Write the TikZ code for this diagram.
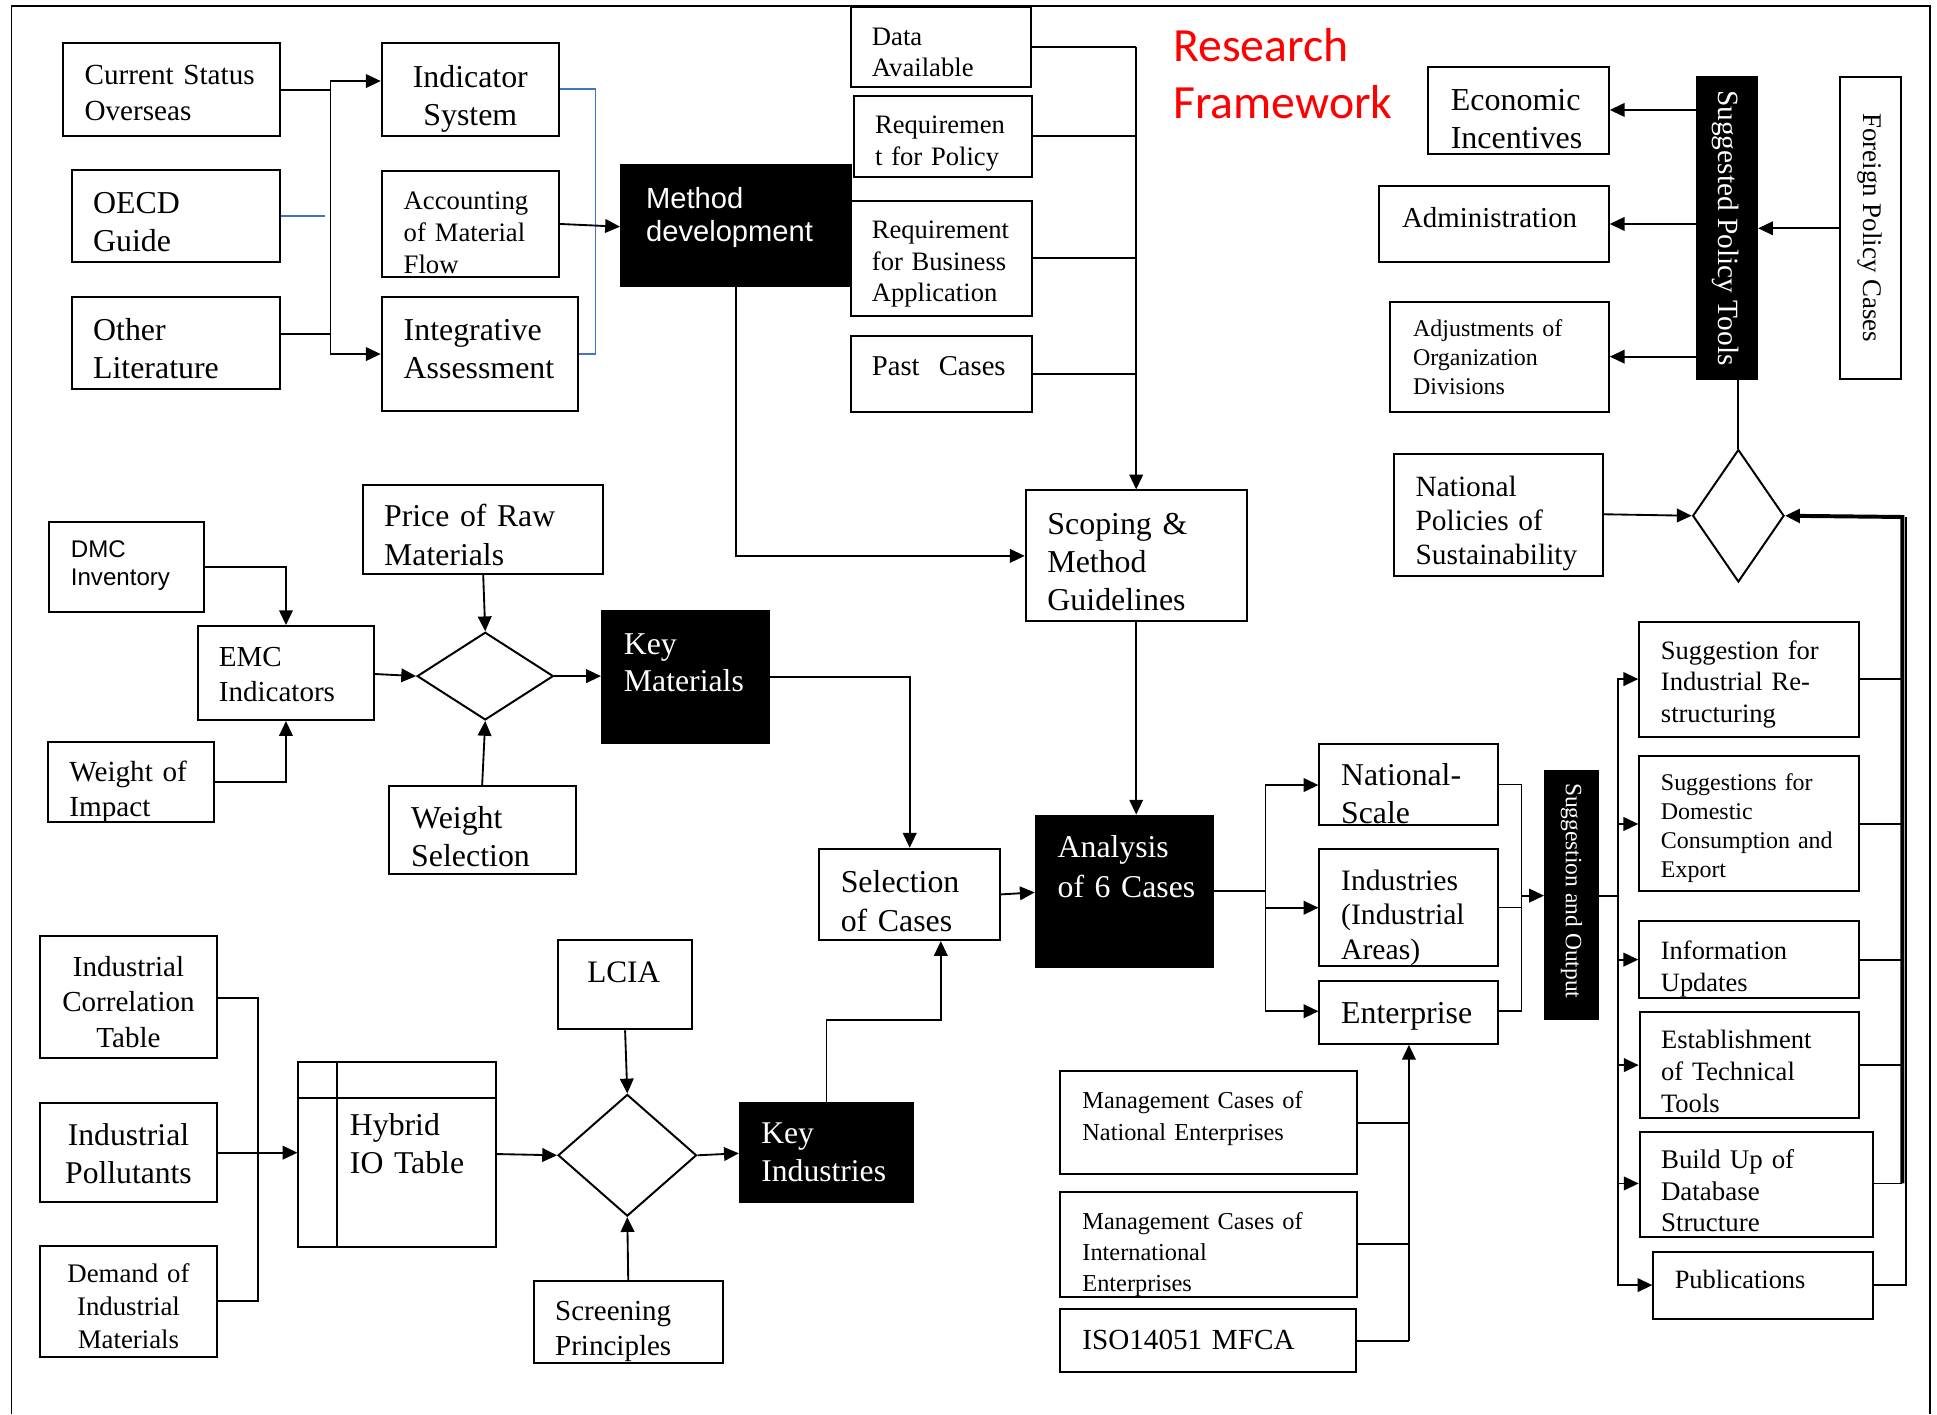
\documentclass[tikz,border=0pt]{standalone}
\usepackage{fontspec}
\setmainfont{Liberation Serif}
\newfontfamily\arialf{Liberation Sans}
\newfontfamily\calf{Carlito}
\usetikzlibrary{fit,arrows.meta,shapes.geometric}
\newcommand\fs[2]{\fontsize{#1}{#2}\selectfont}
\definecolor{lnblue}{RGB}{68,114,196}
\tikzset{
  bx/.style={draw, line width=0.8pt, inner sep=0pt},
  blk/.style={bx, fill=black},
  dia/.style={draw, line width=0.8pt, shape=diamond, inner sep=0pt},
  ln/.style={line width=0.75pt},
  ar/.style={-{Triangle[length=6pt,width=5.5pt]}},
  bl/.style={line width=0.75pt, draw=lnblue},
  tx/.style={inner sep=0pt, anchor=base west, text width=130pt, align=left, yshift=-0.75pt},
  tc/.style={inner sep=0pt, anchor=base, align=center, yshift=-0.75pt},
  wt/.style={text=white},
}
\begin{document}
\begin{tikzpicture}[x=0.5pt,y=-0.5pt]
\useasboundingbox (0,0) rectangle (1568,1145);
% frame
\draw[line width=0.8pt] (9.3,1145) -- (9.3,5) -- (1562.5,5) -- (1562.5,1145);

% ---------- boxes ----------
\node[bx, fit={(51,35)(226.6,110)}] (cso) {};
\node[bx, fit={(58.6,137.6)(226.6,211.8)}] (oecd) {};
\node[bx, fit={(58.6,240.2)(226.6,315)}] (oth) {};
\node[bx, fit={(309,35)(452.5,110)}] (ind) {};
\node[bx, fit={(309,138.4)(452.5,224)}] (acc) {};
\node[bx, fit={(309,240.2)(467.8,332.7)}] (integ) {};
\node[blk, fit={(502.7,133.3)(689,231.5)}] (meth) {};
\node[bx, fit={(689,6)(834.6,70.2)}] (data) {};
\node[bx, fit={(691,78)(835,143)}] (rpol) {};
\node[bx, fit={(689,162.7)(835,255.8)}] (rbus) {};
\node[bx, fit={(689,272)(835,333.3)}] (past) {};
\node[bx, fit={(1156.3,54)(1302.3,124.9)}] (econ) {};
\node[bx, fit={(1116.2,150.8)(1302.3,211.8)}] (adm) {};
\node[bx, fit={(1125.4,244.5)(1302.3,333.3)}] (adj) {};
\node[blk, fit={(1373.7,62)(1422.4,307.1)}] (spt) {};
\node[bx, fit={(1489.8,62)(1539,307.1)}] (fpc) {};
\node[bx, fit={(1128.3,367.9)(1297.4,465.9)}] (npol) {};
\node[dia, minimum width=37pt, minimum height=53.6pt] (d3) at (1407.2,417.5) {};
\node[bx, fit={(830.3,397)(1009.2,502.5)}] (scop) {};
\node[bx, fit={(39.7,422.3)(165.2,495.2)}] (dmc) {};
\node[bx, fit={(160.3,506.8)(302.7,582.9)}] (emc) {};
\node[bx, fit={(38.8,600.4)(173.5,665.2)}] (woi) {};
\node[bx, fit={(294.1,392.4)(488.2,464.7)}] (price) {};
\node[dia, minimum width=55.15pt, minimum height=35.5pt] (d1) at (392.8,547.3) {};
\node[bx, fit={(314.7,636.3)(465.9,707.8)}] (wsel) {};
\node[blk, fit={(487.3,494.6)(622.4,601.2)}] (keym) {};
\node[bx, fit={(663.2,687.1)(809.6,761)}] (sel) {};
\node[blk, fit={(838.4,660.2)(982,783.1)}] (ana) {};
\node[bx, fit={(1068.1,602)(1212.5,668.1)}] (nat) {};
\node[bx, fit={(1068.1,687.1)(1212.5,782.3)}] (inds) {};
\node[bx, fit={(1068.1,794.5)(1212.5,845)}] (ent) {};
\node[blk, fit={(1250.7,623.9)(1293.5,824.8)}] (so) {};
\node[bx, fit={(1327,503.3)(1504.6,596.7)}] (sir) {};
\node[bx, fit={(1327,612.1)(1504.6,721.5)}] (sdc) {};
\node[bx, fit={(1327,745.8)(1504.6,807.9)}] (inf) {};
\node[bx, fit={(1327.3,819)(1504.8,905.3)}] (est) {};
\node[bx, fit={(1327.3,916.1)(1516,1001.6)}] (bud) {};
\node[bx, fit={(1338.4,1013.3)(1516,1068)}] (pub) {};
\node[bx, fit={(858.4,867)(1098.4,950.6)}] (mcn) {};
\node[bx, fit={(858.4,964.7)(1098.4,1049.7)}] (mci) {};
\node[bx, fit={(858.4,1059.9)(1097.4,1110.9)}] (iso) {};
\node[bx, fit={(32,758)(176,856.7)}] (ict) {};
\node[bx, fit={(32,893.2)(176,972.8)}] (ipo) {};
\node[bx, fit={(32,1008.7)(176,1098.3)}] (dim) {};
\node[bx, fit={(241.6,860)(401.7,1009.2)}] (hyb) {};
\draw[line width=0.8pt] (hyb.north -| 273.1,0) -- (hyb.south -| 273.1,0);
\draw[line width=0.8pt] (hyb.west |- 0,888.6) -- (hyb.east |- 0,888.6);
\node[bx, fit={(451.7,760.9)(560.2,833.2)}] (lcia) {};
\node[dia, minimum width=56.05pt, minimum height=49.25pt] (d2) at (507.8,935.2) {};
\node[bx, fit={(432.1,1037)(585,1103.6)}] (scr) {};
\node[blk, fit={(598.9,892.6)(739.3,972.8)}] (keyi) {};

% ---------- texts ----------
\node[tx, font=\fs{11.8}{14.45}] (cso-t) at (68.1,66.9) {Current Status\\Overseas};
\node[tx, font=\fs{12.9}{15.1}] (oecd-t) at (75,171.6) {OECD\\Guide};
\node[tx, font=\fs{12.9}{15.25}] (oth-t) at (75,274.4) {Other\\Literature};
\node[tc, text width=71.75pt, font=\fs{12.9}{15.1}] (ind-t) at (380.7,69.6) {Indicator\\System};
\node[tx, font=\fs{10.8}{13}] (acc-t) at (326.4,167.8) {Accounting\\of Material\\Flow};
\node[tx, font=\fs{12.9}{15.25}] (integ-t) at (326.4,274.4) {Integrative\\Assessment};
\node[tx, wt, font=\arialf\fs{11.8}{13.5}] (meth-t) at (522.6,167.3) {Method\\development};
\node[tx, font=\fs{10.8}{12.8}] (data-t) at (705.4,35.1) {Data\\Available};
\node[tx, font=\fs{10.75}{12.8}] (rpol-t) at (708,106.6) {Requiremen\\t for Policy};
\node[tx, font=\fs{10.75}{12.8}] (rbus-t) at (705.4,191.6) {Requirement\\for Business\\Application};
\node[tx, font=\fs{11.6}{14}] (past-t) at (705.4,302.8) {Past\ \ Cases};
\node[tx, text=red, font=\calf\fs{19.3}{22.9}] (title) at (949.4,48.6) {Research\\Framework};
\node[tx, font=\fs{12.95}{15.5}] (econ-t) at (1174,87.7) {Economic\\Incentives};
\node[tx, font=\fs{11.7}{14}] (adm-t) at (1134.6,183) {Administration};
\node[tx, font=\fs{9.7}{11.7}] (adj-t) at (1143.5,271.2) {Adjustments of\\Organization\\Divisions};
\node[wt, rotate=-90, inner sep=0pt, font=\fs{11.9}{13}] (spt-t) at (1397,184.6) {Suggested Policy Tools};
\node[rotate=-90, inner sep=0pt, font=\fs{10.9}{13}] (fpc-t) at (1514,184.5) {Foreign Policy Cases};
\node[tx, font=\fs{11.9}{13.75}] (npol-t) at (1145.5,400.2) {National\\Policies of\\Sustainability};
\node[tx, font=\fs{12.9}{15.4}] (scop-t) at (847.5,431) {Scoping \&\\Method\\Guidelines};
\node[tx, font=\arialf\fs{9.75}{11}] (dmc-t) at (57,450.1) {DMC\\Inventory};
\node[tx, font=\fs{11.75}{14.2}] (emc-t) at (176.8,538.3) {EMC\\Indicators};
\node[tx, font=\fs{11.8}{14.2}] (woi-t) at (55.8,631.4) {Weight of\\Impact};
\node[tx, font=\fs{12.85}{15.5}] (price-t) at (310.6,425) {Price of Raw\\Materials};
\node[tx, font=\fs{12.9}{15.5}] (wsel-t) at (332.5,669.2) {Weight\\Selection};
\node[tx, wt, font=\fs{12.85}{15.15}] (keym-t) at (504.7,528.3) {Key\\Materials};
\node[tx, font=\fs{12.9}{15.9}] (sel-t) at (680.2,720.6) {Selection\\of Cases};
\node[tx, wt, font=\fs{12.85}{16}] (ana-t) at (855.8,692.8) {Analysis\\of 6 Cases};
\node[tx, font=\fs{12.85}{15.2}] (nat-t) at (1085.3,634.5) {National-\\Scale};
\node[tx, font=\fs{12}{14}] (inds-t) at (1085.3,719.2) {Industries\\(Industrial\\Areas)};
\node[tx, font=\fs{12.9}{15}] (ent-t) at (1085.3,827.1) {Enterprise};
\node[wt, rotate=-90, inner sep=0pt, font=\fs{9.5}{11}] (so-t) at (1272,721) {Suggestion and Output};
\node[tx, font=\fs{10.75}{12.8}] (sir-t) at (1344.1,532.1) {Suggestion for\\Industrial Re-\\structuring};
\node[tx, font=\fs{9.7}{11.75}] (sdc-t) at (1344.1,638.3) {Suggestions for\\Domestic\\Consumption and\\Export};
\node[tx, font=\fs{10.7}{12.8}] (inf-t) at (1344.1,775.3) {Information\\Updates};
\node[tx, font=\fs{10.75}{13}] (est-t) at (1344.2,847.3) {Establishment\\of Technical\\Tools};
\node[tx, font=\fs{10.9}{12.8}] (bud-t) at (1344.2,944.4) {Build Up of\\Database\\Structure};
\node[tx, font=\fs{10.7}{12.8}] (pub-t) at (1355.3,1041.6) {Publications};
\node[tx, font=\fs{9.85}{12.8}] (mcn-t) at (875.8,895.9) {Management Cases of\\National Enterprises};
\node[tx, font=\fs{9.85}{12.6}] (mci-t) at (875.8,993.8) {Management Cases of\\International\\Enterprises};
\node[tx, font=\fs{11.8}{14}] (iso-t) at (875.8,1090.7) {ISO14051 MFCA};
\node[tc, text width=72pt, font=\fs{11.75}{14.2}] (ict-t) at (104,789.3) {Industrial\\Correlation\\Table};
\node[tc, text width=72pt, font=\fs{12.8}{15.5}] (ipo-t) at (104,925.5) {Industrial\\Pollutants};
\node[tc, text width=72pt, font=\fs{10.85}{13.2}] (dim-t) at (104,1037) {Demand of\\Industrial\\Materials};
\node[tx, font=\fs{12.85}{15.5}] (hyb-t) at (282.9,917.5) {Hybrid\\IO Table};
\node[tx, font=\fs{12.65}{15}] (lcia-t) at (475,794.1) {LCIA};
\node[tx, font=\fs{11.75}{14.45}] (scr-t) at (449,1067.2) {Screening\\Principles};
\node[tx, wt, font=\fs{12.8}{15.5}] (keyi-t) at (615.9,924.2) {Key\\Industries};

% ---------- connectors ----------
\coordinate (j1) at (267.5,65.6);
\coordinate (j2) at (267.5,286.6);
\draw[ln] (cso.east |- 0,72.9) -- (j1 |- 0,72.9);
\draw[ln] (oth.east |- 0,270.7) -- (j1 |- 0,270.7);
\draw[ln,ar] (j2) -- (j1) -- (ind.west |- j1);
\draw[ln,ar] (j2) -- (integ.west |- j2);
\coordinate (ob) at (263.4,174.9);
\draw[bl] (oecd.east |- ob) -- (ob);
\draw[bl] (ind.east |- 0,72.3) -- (482.1,72.3) -- (482.1,286.6) -- (integ.east |- 0,286.6);
\draw[ln,ar] (acc.east |- 0,181.3) -- (meth.west |- 0,183.5);
\draw[ln,ar] (meth.south) |- (scop.west |- 0,450);

\draw[ln] (data.east |- 0,37.8) -- (scop.north |- 0,37.8);
\draw[ln] (rpol.east |- 0,110) -- (scop.north |- 0,110);
\draw[ln] (rbus.east |- 0,209) -- (scop.north |- 0,209);
\draw[ln] (past.east |- 0,302.8) -- (scop.north |- 0,302.8);
\draw[ln,ar] (scop.north |- 0,37.8) -- (scop.north);
\draw[ln,ar] (scop.south) -- (scop.south |- ana.north);

\draw[ln,ar] (dmc.east |- 0,458.7) -| (emc.north);
\draw[ln,ar] (woi.east |- 0,632.8) -| (emc.south);
\draw[ln,ar] (emc.east |- 0,545.6) -- (d1.west);
\draw[ln,ar] (price.south) -- (d1.north);
\draw[ln,ar] (wsel.north) -- (d1.south);
\draw[ln,ar] (d1.east) -- (keym.west |- d1.east);
\draw[ln,ar] (keym.east |- 0,548) -| (sel.north);
\draw[ln,ar] (sel.east |- 0,724) -- (ana.west |- 0,722.4);
\draw[ln,ar] (keyi.north -| 669.1,0) -- (669.1,825.7) -- (761.6,825.7) -- (sel.south -| 761.6,0);

\coordinate (ja) at (1024.4,721.2);
\draw[ln] (ana.east |- ja) -- (ja);
\draw[ln,ar] (ja) |- (nat.west |- 0,635.5);
\draw[ln,ar] (ja) |- (inds.west |- 0,734.8);
\draw[ln,ar] (ja) |- (ent.west |- 0,818.6);
\coordinate (jb) at (1231.6,725);
\draw[ln] (nat.east |- 0,635) -| (jb);
\draw[ln] (inds.east |- 0,734.6) -| (jb);
\draw[ln] (ent.east |- 0,818.5) -| (jb);
\draw[ln,ar] (jb) -- (so.west |- jb);
\coordinate (jc) at (1309.9,725);
\draw[ln] (so.east |- jc) -- (jc);
\draw[ln,ar] (jc) |- (sir.west |- 0,549.7);
\draw[ln,ar] (jc) |- (sdc.west |- 0,667);
\draw[ln,ar] (jc) |- (inf.west |- 0,776.8);
\draw[ln,ar] (jc) |- (est.west |- 0,862.2);
\draw[ln,ar] (jc) |- (bud.west |- 0,958);
\draw[ln,ar] (jc) |- (pub.west |- 0,1040.3);

\coordinate (jd) at (1540,418.5);
\draw[ln] (sir.east |- 0,549.7) -- (jd |- 0,549.7);
\draw[ln] (sdc.east |- 0,667) -- (jd |- 0,667);
\draw[ln] (inf.east |- 0,776.8) -- (jd |- 0,776.8);
\draw[ln] (est.east |- 0,862.2) -- (jd |- 0,862.2);
\draw[ln] (bud.east |- 0,958) -- (jd |- 0,958);
\draw[ln] (pub.east |- 0,1040.3) -- (1543,1040.3) -- (1543,418.5);
\draw[line width=1.6pt,ar] (jd |- 0,958) -- (jd) -- (d3.east);

\draw[ln,ar] (npol.east |- 0,416.3) -- (d3.west);
\draw[ln] (d3.north |- spt.south) -- (d3.north);
\draw[ln,ar] (spt.west |- 0,89) -- (econ.east |- 0,89);
\draw[ln,ar] (spt.west |- 0,181.3) -- (adm.east |- 0,181.3);
\draw[ln,ar] (spt.west |- 0,288.7) -- (adj.east |- 0,288.7);
\draw[ln,ar] (fpc.west |- 0,184.8) -- (spt.east |- 0,184.8);

\coordinate (je) at (209.1,933.1);
\draw[ln] (ict.east |- 0,807.6) -| (je);
\draw[ln] (dim.east |- 0,1053.2) -| (je);
\draw[ln] (ipo.east |- je) -- (je);
\draw[ln,ar] (je) -- (hyb.west |- je);
\draw[ln,ar] (hyb.east |- 0,934.2) -- (d2.west);
\draw[ln,ar] (lcia.south -| 506,0) -- (d2.north);
\draw[ln,ar] (scr.north) -- (d2.south);
\draw[ln,ar] (d2.east) -- (keyi.west |- 0,933.6);

\coordinate (jf) at (1140.5,1085.6);
\draw[ln] (mcn.east |- 0,909.4) -- (jf |- 0,909.4);
\draw[ln] (mci.east |- 0,1007.3) -- (jf |- 0,1007.3);
\draw[ln] (iso.east |- jf) -- (jf);
\draw[ln,ar] (jf) -- (ent.south -| jf);
\end{tikzpicture}
\end{document}
